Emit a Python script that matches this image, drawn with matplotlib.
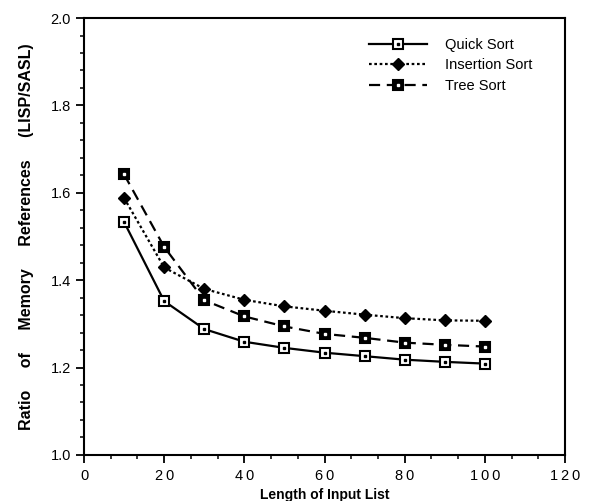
import matplotlib
matplotlib.use("Agg")
import matplotlib.pyplot as plt
from matplotlib.ticker import MultipleLocator
from matplotlib.legend_handler import HandlerTuple

plt.rcParams['font.family'] = ['Liberation Sans', 'DejaVu Sans']

list_length = [10, 20, 30, 40, 50, 60, 70, 80, 90, 100]
quick_sort = [1.533, 1.352, 1.288, 1.259, 1.245, 1.234, 1.226, 1.218, 1.213, 1.209]
insertion_sort = [1.588, 1.429, 1.380, 1.355, 1.340, 1.330, 1.321, 1.313, 1.308, 1.307]
tree_sort = [1.642, 1.476, 1.354, 1.317, 1.294, 1.277, 1.268, 1.257, 1.252, 1.248]

x_ticks = [0, 20, 40, 60, 80, 100, 120]
x_tick_labels = ['0', '2\u20090', '4\u20090', '6\u20090', '8\u20090',
                 '1\u20090\u20090', '1\u20092\u20090']
y_ticks = [1.0, 1.2, 1.4, 1.6, 1.8, 2.0]
y_tick_labels = ['1.0', '1.2', '1.4', '1.6', '1.8', '2.0']

fig = plt.figure(figsize=(5.96, 5.01), dpi=100)
ax = fig.add_axes([0.141, 0.092, 0.807, 0.872])

lw = 1.6
ms = 6.5

# Quick Sort: solid line, open square with centre dot
q_line, = ax.plot(list_length, quick_sort, color='black', lw=lw, ls='-',
                  marker='s', ms=ms, mfc='white', mec='black', mew=1.5)
q_dot, = ax.plot(list_length, quick_sort, ls='none', marker='s', ms=1.6,
                 mfc='black', mec='black')

# Insertion Sort: dotted line, filled diamond
i_line, = ax.plot(list_length, insertion_sort, color='black', lw=lw, ls=(0, (1.2, 1.2)),
                  marker='D', ms=6, mfc='black', mec='black')

# Tree Sort: dashed line, filled square with white centre
t_line, = ax.plot(list_length, tree_sort, color='black', lw=lw, ls=(0, (5, 3)),
                  marker='s', ms=ms, mfc='black', mec='black', mew=1.5)
t_dot, = ax.plot(list_length, tree_sort, ls='none', marker='s', ms=1.6,
                 mfc='white', mec='white')

ax.legend([(q_line, q_dot), i_line, (t_line, t_dot)],
          ['Quick Sort', 'Insertion Sort', 'Tree Sort'],
          handler_map={tuple: HandlerTuple(ndivide=1)},
          loc='upper left', bbox_to_anchor=(0.565, 0.985), frameon=False,
          fontsize=10.5, handlelength=4.0, handletextpad=1.2, labelspacing=0.45)

ax.set_xlim(0, 120)
ax.set_ylim(1.0, 2.0)
ax.set_xticks(x_ticks)
ax.set_xticklabels(x_tick_labels)
ax.set_yticks(y_ticks)
ax.set_yticklabels(y_tick_labels)
ax.xaxis.set_minor_locator(MultipleLocator(20 / 3))
ax.yaxis.set_minor_locator(MultipleLocator(0.04))
ax.tick_params(which='major', direction='out', length=6, width=1.3, labelsize=10.5)
ax.tick_params(which='minor', direction='out', length=3, width=1.1)
ax.tick_params(axis='x', pad=4)
for s in ax.spines.values():
    s.set_linewidth(1.5)

ax.set_xlabel('Length of Input List', fontsize=10, fontweight='bold', labelpad=4)
ax.set_ylabel('Ratio     of     Memory     References     (LISP/SASL)', fontsize=11.5,
              fontweight='bold', labelpad=12)

fig.savefig('out.png', dpi=100)
